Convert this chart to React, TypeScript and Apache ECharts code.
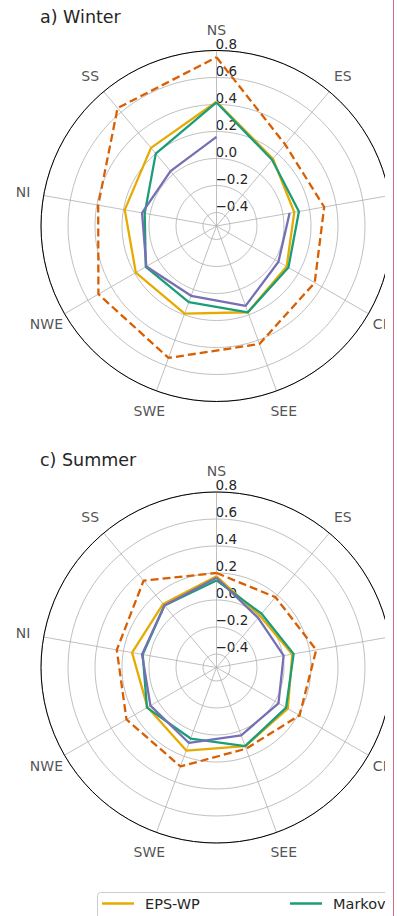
import React, { useEffect, useRef } from 'react';
import * as echarts from 'echarts';

// ---- data -------------------------------------------------------------
const regions = ['NS', 'ES', 'NEE', 'CEE', 'SEE', 'SWE', 'NWE', 'NI', 'SS'];
const radialTicks = [-0.4, -0.2, 0.0, 0.2, 0.4, 0.6, 0.8];
const seriesNames = ['EPS-WP', 'Markov', 'Persistence', 'EPS'];
const panelTitles = ['a) Winter', 'c) Summer'];

const winterEPSWP = [0.42, 0.15, 0.085, 0.10, 0.18, 0.19, 0.19, 0.19, 0.255];
const winterMarkov = [0.415, 0.14, 0.12, 0.115, 0.18, 0.10, 0.105, 0.04, 0.20];
const winterPersistence = [0.16, null, 0.05, 0.03, 0.13, 0.05, 0.10, 0.06, 0.03];
const winterEPS = [0.75, 0.29, 0.31, 0.34, 0.43, 0.54, 0.51, 0.39, 0.64];

const summerEPSWP = [0.175, 0.0, 0.07, 0.11, 0.12, 0.155, 0.09, 0.135, 0.115];
const summerMarkov = [0.145, 0.02, 0.08, 0.095, 0.12, 0.06, 0.095, 0.055, 0.10];
const summerPersistence = [0.165, -0.02, 0.005, 0.03, 0.035, 0.095, 0.065, 0.06, 0.10];
const summerEPS = [0.20, 0.18, 0.25, 0.21, 0.14, 0.28, 0.27, 0.25, 0.34];

// ---- styling ----------------------------------------------------------
const FONT = 'DejaVu Sans';
const TEXT = '#262626';
const GRID = '#b0b0b0';
const COLORS = ['#e6ab02', '#1b9e77', '#7570b3', '#d95f02'];
const R_MIN = -0.5;
const R_MAX = 0.8;
const LABEL_R = 0.955;
const STEP = 360 / regions.length;
const angleOf = (i: number) => i * STEP;

const fmt = (v: number) => {
  const s = Math.abs(v).toFixed(1);
  return v < -1e-9 ? '\u2212' + s : s;
};

function closedLoop(values: (number | null)[]) {
  const pts: any[] = values.map((v, i) => [v === null ? '-' : v, angleOf(i)]);
  pts.push([values[0] === null ? '-' : values[0], 360]);
  return pts;
}

function lineSeries(name: string, values: (number | null)[], polarIndex: number, k: number) {
  const dashed = k === 3;
  return {
    type: 'line',
    name,
    coordinateSystem: 'polar',
    polarIndex,
    data: closedLoop(values),
    symbol: 'none',
    showSymbol: false,
    connectNulls: false,
    clip: false,
    silent: true,
    z: 3 + k,
    lineStyle: { color: COLORS[k], width: 2.3, type: dashed ? [8, 4] : 'solid', cap: 'butt' },
    itemStyle: { color: COLORS[k] },
  };
}

function buildOption() {
  const polarCenters = [[216.5, 226], [216.5, 667.5]];
  const panels = [
    [winterEPSWP, winterMarkov, winterPersistence, winterEPS],
    [summerEPSWP, summerMarkov, summerPersistence, summerEPS],
  ];
  const series: any[] = [];
  panels.forEach((vals, p) => {
    vals.forEach((v, k) => series.push(lineSeries(seriesNames[k], v, p, k)));
    series.push({
      type: 'scatter',
      coordinateSystem: 'polar',
      polarIndex: p,
      data: regions.map((_, i) => [LABEL_R, angleOf(i)]),
      symbol: 'circle',
      symbolSize: 1,
      itemStyle: { color: 'rgba(0,0,0,0)' },
      clip: false,
      silent: true,
      z: 1,
      label: {
        show: true,
        position: 'inside',
        formatter: (prm: any) => regions[prm.dataIndex],
        color: TEXT,
        fontFamily: FONT,
        fontSize: 14,
      },
    });
  });

  const legendLeft = 102;
  const legendStep = 188;

  return {
    animation: false,
    backgroundColor: '#ffffff',
    textStyle: { fontFamily: FONT },
    polar: polarCenters.map((c) => ({ center: c, radius: 175.5 })),
    angleAxis: polarCenters.map((_, p) => ({
      polarIndex: p,
      type: 'value',
      min: 0,
      max: 360,
      interval: STEP,
      startAngle: 90,
      clockwise: true,
      z: 1,
      axisLine: { show: true, lineStyle: { color: '#000000', width: 1 } },
      axisTick: { show: false },
      axisLabel: { show: false },
      splitLine: { show: true, lineStyle: { color: GRID, width: 0.8 } },
    })),
    radiusAxis: polarCenters.map((_, p) => ({
      polarIndex: p,
      type: 'value',
      min: R_MIN,
      max: R_MAX,
      z: 0,
      axisLine: { show: false },
      axisTick: { show: false, customValues: radialTicks },
      axisLabel: {
        show: true,
        customValues: radialTicks,
        formatter: fmt,
        color: TEXT,
        fontFamily: FONT,
        fontSize: 13.5,
        align: 'left',
        verticalAlign: 'bottom',
        margin: 1,
      },
      splitLine: { show: true, lineStyle: { color: GRID, width: 0.8 } },
    })),
    legend: seriesNames.map((n, k) => ({
      data: [n],
      left: legendLeft + k * legendStep,
      top: 892,
      orient: 'horizontal',
      icon: 'rect',
      itemWidth: 32,
      itemHeight: 2.5,
      padding: [4, 0, 0, 0],
      selectedMode: false,
      textStyle: { color: TEXT, fontFamily: FONT, fontSize: 14.5, padding: [0, 0, 0, 6] },
    })),
    graphic: [
      {
        type: 'rect',
        z: 0,
        shape: { x: 97.5, y: 892.5, width: 700, height: 40, r: 3 },
        style: { fill: '#ffffff', stroke: '#cccccc', lineWidth: 1 },
      },
      ...panelTitles.map((t, p) => ({
        type: 'text',
        x: 40,
        y: p === 0 ? 17.4 : 459.7,
        style: { text: t, fill: TEXT, fontFamily: FONT, fontSize: 17.5, align: 'left', verticalAlign: 'middle' },
      })),
    ],
    series,
  };
}

export default function App() {
  const ref = useRef<HTMLDivElement>(null);
  useEffect(() => {
    document.body.style.margin = '0';
    if (!ref.current) return;
    const chart = echarts.init(ref.current, undefined, { renderer: 'svg' });
    chart.setOption(buildOption() as any);
    return () => chart.dispose();
  }, []);
  return (
    <div style={{ position: 'relative', width: 397, height: 916, overflow: 'hidden', background: '#fff' }}>
      <div style={{ position: 'absolute', left: 0, top: 0, width: 385, height: 916, overflow: 'hidden' }}>
        <div ref={ref} style={{ width: 800, height: 916 }} />
      </div>
      <div style={{ position: 'absolute', left: 392.5, top: 0, width: 1, height: 916, background: '#cf6a88' }} />
    </div>
  );
}
